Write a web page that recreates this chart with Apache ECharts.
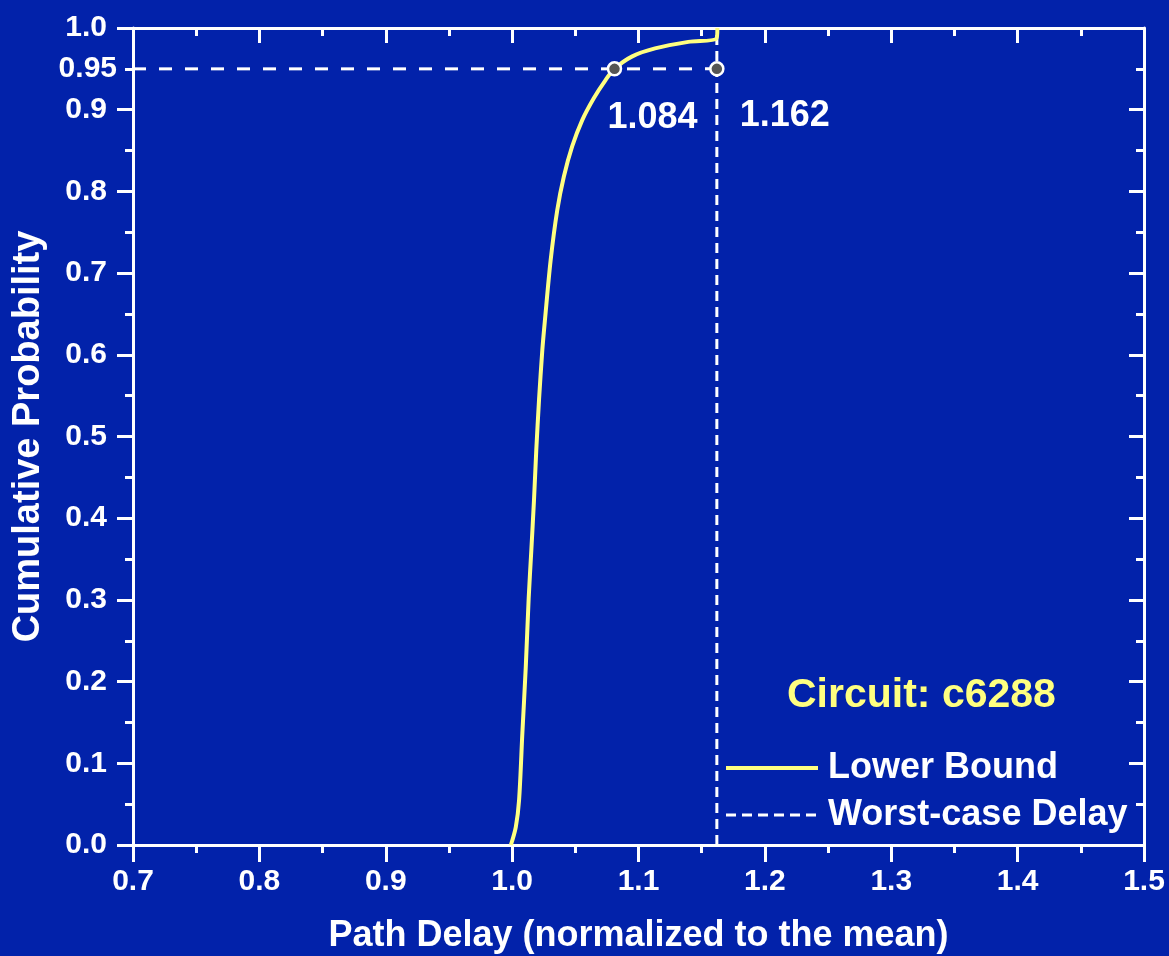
<!DOCTYPE html>
<html>
<head>
<meta charset="utf-8">
<title>Path delay CDF - c6288</title>
<script src="https://cdn.jsdelivr.net/npm/echarts@6/dist/echarts.min.js"></script>
<style>
  html, body { margin: 0; padding: 0; background: #0222aa; overflow: hidden; }
  #chart { width: 1169px; height: 956px; }
</style>
</head>
<body>
<div id="chart"></div>
<script>
// Lower bound CDF
const curveX = [0.999, 1.0029, 1.0055, 1.0081, 1.0108, 1.0131, 1.0152, 1.0173, 1.0191, 1.0213, 1.0239, 1.026,
  1.0305, 1.0357, 1.0409, 1.0475, 1.0554, 1.0646, 1.0738, 1.081, 1.0947, 1.1131, 1.1394, 1.1617, 1.1624];
const curveY = [0, 0.022, 0.055, 0.137, 0.218, 0.302, 0.361, 0.422, 0.483, 0.545, 0.606, 0.643,
  0.716, 0.777, 0.818, 0.855, 0.887, 0.914, 0.936, 0.95, 0.965, 0.975, 0.983, 0.987, 1.0];

// worst-case delay (vertical line) and the 95% level
const worstCase = 1.162;
const level95 = 0.95;
const markerX = [1.081, 1.162];
const markerLabels = ["1.084", "1.162"];

const yLabelValues = [0, 0.1, 0.2, 0.3, 0.4, 0.5, 0.6, 0.7, 0.8, 0.9, 0.95, 1.0];

const FONT = "Liberation Sans, Arial, sans-serif";
const WHITE = "#ffffff";
const YELLOW = "#ffff80";

const chart = echarts.init(document.getElementById("chart"));

function axisBase() {
  return {
    type: "value",
    axisLine: { show: true, onZero: false, lineStyle: { color: WHITE, width: 3 } },
    axisTick: { show: true, length: 16, lineStyle: { color: WHITE, width: 3 } },
    minorTick: { show: true, splitNumber: 2, length: 8, lineStyle: { color: WHITE, width: 3 } },
    splitLine: { show: false },
  };
}

const tickFont = { color: WHITE, fontSize: 30, fontWeight: "bold", fontFamily: FONT };

const option = {
  backgroundColor: "#0222aa",
  animation: false,
  textStyle: { fontFamily: FONT },
  grid: { left: 133, right: 25, top: 28, bottom: 111, containLabel: false, outerBoundsMode: "none" },
  title: {
    text: "Circuit: c6288",
    left: 787,
    top: 675,
    padding: 0,
    textStyle: { color: YELLOW, fontSize: 41, fontWeight: "bold", fontFamily: FONT },
  },
  legend: {
    data: [
      { name: "Lower Bound", lineStyle: { width: 4 } },
      { name: "Worst-case Delay", lineStyle: { width: 3 } },
    ],
    orient: "vertical",
    left: 719,
    top: 745,
    itemWidth: 92,
    itemHeight: 20,
    itemGap: 11,
    itemStyle: { opacity: 0 },
    textStyle: { color: WHITE, fontSize: 36, fontWeight: "bold", fontFamily: FONT, padding: [0, 0, 0, 5] },
  },
  xAxis: [
    Object.assign(axisBase(), {
      position: "bottom",
      min: 0.7,
      max: 1.5,
      interval: 0.1,
      name: "Path Delay (normalized to the mean)",
      nameLocation: "middle",
      nameGap: 73,
      nameTextStyle: { color: WHITE, fontSize: 36, fontWeight: "bold", fontFamily: FONT },
      axisTick: { show: true, length: 17, lineStyle: { color: WHITE, width: 3 } },
      axisLabel: Object.assign({ margin: 22, formatter: (v) => v.toFixed(1) }, tickFont),
    }),
    Object.assign(axisBase(), {
      position: "top",
      min: 0.7,
      max: 1.5,
      interval: 0.1,
      axisTick: { show: true, inside: true, length: 15, lineStyle: { color: WHITE, width: 3 } },
      minorTick: { show: true, splitNumber: 2, length: 8, lineStyle: { color: WHITE, width: 3 } },
      axisLabel: { show: false },
    }),
  ],
  yAxis: [
    Object.assign(axisBase(), {
      position: "left",
      min: 0,
      max: 1,
      interval: 0.1,
      name: "Cumulative Probability",
      nameLocation: "middle",
      nameGap: 77,
      nameTextStyle: { color: WHITE, fontSize: 38, fontWeight: "bold", fontFamily: FONT },
      axisLabel: Object.assign({
        margin: 16,
        customValues: yLabelValues,
        showMinLabel: true, showMaxLabel: true, hideOverlap: false,
        // 0.95 sits on a short minor tick, so its label is closer to the axis
        formatter: (v) => (Math.abs(v - 0.95) < 1e-6 ? "0.95" : "{n|" + v.toFixed(1) + "}"),
        rich: { n: Object.assign({ padding: [0, 10, 0, 0] }, tickFont) },
      }, tickFont),
    }),
    Object.assign(axisBase(), {
      position: "right",
      min: 0,
      max: 1,
      interval: 0.1,
      axisTick: { show: true, inside: true, length: 15, lineStyle: { color: WHITE, width: 3 } },
      minorTick: { show: true, splitNumber: 2, length: 8, lineStyle: { color: WHITE, width: 3 } },
      axisLabel: { show: false },
    }),
  ],
  series: [
    {
      name: "95% level",
      type: "line",
      symbol: "none",
      silent: true,
      z: 2,
      data: [[0.7, level95], [worstCase, level95]],
      lineStyle: { color: WHITE, width: 3, type: [13, 13] },
    },
    {
      name: "Worst-case Delay",
      type: "line",
      symbol: "none",
      z: 2,
      data: [[worstCase, 0], [worstCase, 1]],
      lineStyle: { color: WHITE, width: 3, type: [10, 6] },
      itemStyle: { color: WHITE },
    },
    {
      name: "Lower Bound",
      type: "line",
      symbol: "none",
      smooth: 0.3,
      z: 3,
      data: curveX.map((x, i) => [x, curveY[i]]),
      lineStyle: { color: YELLOW, width: 4 },
      itemStyle: { color: YELLOW },
    },
    {
      name: "markers",
      type: "scatter",
      symbol: "circle",
      symbolSize: 13,
      z: 5,
      itemStyle: { color: "#555555", borderColor: WHITE, borderWidth: 2.5, opacity: 1 },
      emphasis: { disabled: true },
      data: markerX.map((x, i) => ({
        value: [x, level95],
        label: {
          show: true,
          position: "inside",
          offset: i === 0 ? [38, 49] : [68, 47],
          formatter: markerLabels[i],
          color: WHITE,
          opacity: 1,
          fontSize: 36,
          fontWeight: "bold",
          fontFamily: FONT,
        },
      })),
    },
  ],
};

chart.setOption(option);
</script>
</body>
</html>
